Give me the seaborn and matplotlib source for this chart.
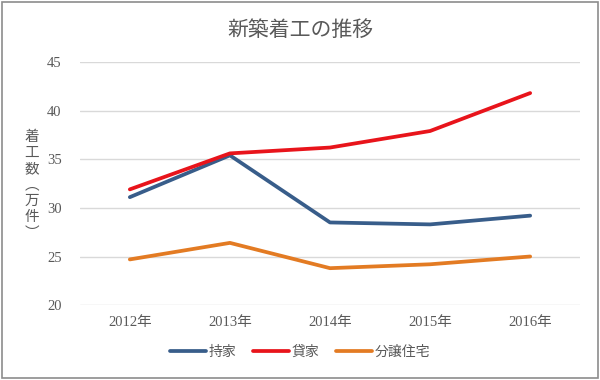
import matplotlib
matplotlib.use("Agg")
import matplotlib.pyplot as plt
import seaborn as sns
import pandas as pd
from matplotlib.patches import Rectangle

years = ["2012年", "2013年", "2014年", "2015年", "2016年"]
mochiie = [31.1, 35.4, 28.5, 28.3, 29.2]
kashiya = [31.9, 35.6, 36.2, 37.9, 41.8]
bunjo = [24.7, 26.4, 23.8, 24.2, 25.0]
series_names = ["持家", "貸家", "分譲住宅"]
colors = ["#385D8A", "#E8141B", "#E37B23"]
yticks = [20, 25, 30, 35, 40, 45]
ylabel_chars = ["着", "工", "数", "︵", "万", "件", "︶"]

sns.set_theme(style="white")
plt.rcParams['font.family'] = ['Liberation Serif', 'Noto Sans CJK JP']

rows = []
for name, vals in zip(series_names, [mochiie, kashiya, bunjo]):
    for i, (y, v) in enumerate(zip(years, vals)):
        rows.append({"x": i, "year": y, "value": v, "series": name})
df = pd.DataFrame(rows)

fig = plt.figure(figsize=(6, 3.8), dpi=100)
ax = fig.add_axes([0.133, 0.197, 0.834, 0.64])
sns.lineplot(data=df, x="x", y="value", hue="series", palette=colors,
             hue_order=series_names, linewidth=2.7, ax=ax, legend=True)

ax.set_xlim(-0.5, 4.5)
ax.set_ylim(20, 45)
ax.set_yticks(yticks)
ax.set_xticks(range(len(years)))
ax.set_xticklabels(years)
ax.yaxis.grid(True, color="#D9D9D9", linewidth=1)
ax.xaxis.grid(False)
for s in ax.spines.values():
    s.set_visible(False)
ax.tick_params(axis='both', colors="#595959", labelsize=10.5, length=0)
ax.tick_params(axis='y', pad=13)
ax.tick_params(axis='x', pad=8)
ax.set_xlabel("")
ax.set_ylabel("")

h, l = ax.get_legend_handles_labels()
ax.get_legend().remove()
fig.legend(h, l, loc="center", bbox_to_anchor=(0.5, 1 - 352 / 380), ncol=3, frameon=False,
           handlelength=2.6, columnspacing=1.2, handletextpad=0.2,
           labelcolor="#595959", prop={'family': ['Noto Sans CJK JP'], 'size': 10})

fig.text(0.5, 1 - 30 / 380, "新築着工の推移", ha="center", va="center", fontsize=15,
         color="#595959", family=['Noto Sans CJK JP'])
for k, ch in enumerate(ylabel_chars):
    fig.text(32 / 600, 1 - (137 + 16 * k) / 380, ch, ha="center", va="center",
             fontsize=10.5, color="#595959", family=['Noto Sans CJK JP'])

fig.patches.append(Rectangle((0.003, 0.004), 0.994, 0.99, transform=fig.transFigure,
                             fill=False, edgecolor="#8C8C8C", linewidth=1.2))

fig.savefig("out.png", dpi=100)
